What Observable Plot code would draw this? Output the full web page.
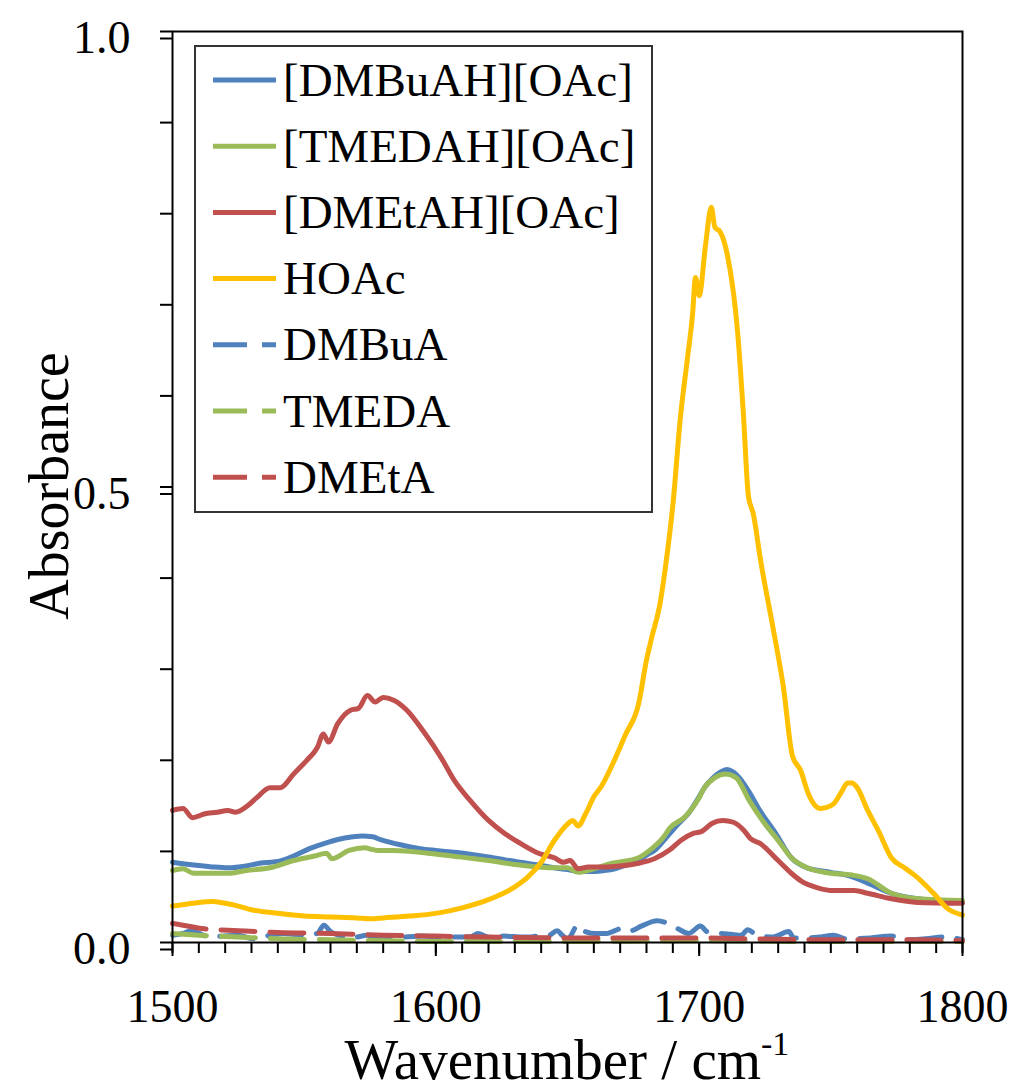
<!DOCTYPE html>
<html>
<head>
<meta charset="utf-8">
<script src="https://cdn.jsdelivr.net/npm/d3@7"></script>
<script src="https://cdn.jsdelivr.net/npm/@observablehq/plot@0.6"></script>
<style>
  html, body { margin: 0; padding: 0; background: #fff; }
  #chart { width: 1012px; height: 1092px; }
</style>
</head>
<body>
<div id="chart"></div>
<script>
// FT-IR spectra of protic ionic liquids, acetic acid and the parent amines (C=O / COO- region)

const seriesNames = ["[DMBuAH][OAc]", "[TMEDAH][OAc]", "[DMEtAH][OAc]", "HOAc", "DMBuA", "TMEDA", "DMEtA"];
const seriesColors = ["#4F81BD", "#9BBB59", "#C0504D", "#FFC000", "#4F81BD", "#9BBB59", "#C0504D"];
const seriesDashed = [false, false, false, false, true, true, true];

// [wavenumber (cm-1), absorbance]
const DMBuAH_OAc = [
  [1500,0.088],[1508,0.085],[1515,0.083],[1521,0.082],[1528,0.084],[1533,0.087],[1540,0.089],
  [1546,0.095],[1552,0.103],[1559,0.110],[1566,0.115],[1572,0.117],[1576,0.116],[1579,0.113],
  [1587,0.107],[1594,0.103],[1600,0.101],[1607,0.099],[1613,0.097],[1620,0.094],[1626,0.091],
  [1632,0.088],[1639,0.085],[1645,0.082],[1650,0.080],[1654,0.078],[1660,0.078],[1664,0.079],
  [1668,0.081],[1672,0.085],[1677,0.090],[1680,0.096],[1683,0.101],[1686,0.110],[1689,0.120],
  [1692,0.130],[1696,0.142],[1700,0.160],[1702,0.170],[1705,0.180],[1708,0.187],[1710.5,0.190],
  [1713,0.187],[1716,0.178],[1719,0.165],[1723,0.145],[1729,0.120],[1735,0.093],[1741,0.082],
  [1750,0.077],[1756,0.074],[1761,0.069],[1765,0.064],[1773,0.054],[1783,0.048],[1800,0.044]
];

const TMEDAH_OAc = [
  [1500,0.079],[1504,0.081],[1508,0.076],[1515,0.076],[1521,0.076],[1528,0.079],[1537,0.082],
  [1546,0.090],[1554,0.095],[1558.5,0.098],[1560.5,0.092],[1567,0.101],[1573,0.104],[1576,0.102],
  [1578,0.101],[1584,0.101],[1597,0.098],[1609,0.094],[1620,0.090],[1632,0.085],[1645,0.082],
  [1650,0.082],[1654,0.077],[1660,0.081],[1667,0.087],[1677,0.093],[1682,0.103],[1686,0.114],
  [1689,0.126],[1695,0.139],[1700,0.159],[1702,0.170],[1706,0.181],[1710,0.185],[1714,0.181],
  [1719,0.156],[1724,0.134],[1730,0.112],[1735,0.093],[1741,0.082],[1750,0.076],[1758,0.074],
  [1764,0.070],[1773,0.054],[1783,0.048],[1800,0.046]
];

const DMEtAH_OAc = [
  [1500,0.145],[1504,0.147],[1507.6,0.137],[1512,0.141],[1517,0.143],[1521,0.145],[1524,0.143],
  [1528.5,0.150],[1532,0.159],[1537,0.170],[1541,0.170],[1546,0.185],[1551,0.200],[1555,0.214],
  [1557.3,0.229],[1559.2,0.220],[1562.7,0.240],[1567.6,0.255],[1570.6,0.257],[1574,0.271],
  [1577,0.264],[1580,0.269],[1584,0.266],[1589,0.255],[1595,0.233],[1602,0.203],[1607,0.178],
  [1613,0.156],[1620,0.134],[1626,0.120],[1632,0.109],[1639,0.098],[1645,0.093],[1648.5,0.088],
  [1651,0.090],[1654,0.081],[1658,0.083],[1664,0.083],[1670,0.084],[1677,0.087],[1683,0.092],
  [1689,0.102],[1693,0.112],[1698,0.120],[1701,0.122],[1705,0.131],[1709,0.134],[1713,0.132],
  [1717,0.123],[1719.5,0.114],[1723,0.109],[1730,0.090],[1735,0.076],[1738.5,0.068],[1745,0.060],
  [1751,0.057],[1759,0.057],[1764,0.054],[1773,0.048],[1783,0.044],[1800,0.043]
];

const HOAc = [
  [1500,0.040],[1505,0.042],[1510,0.044],[1515,0.045],[1520,0.043],[1525,0.040],[1530,0.036],
  [1540,0.032],[1550,0.029],[1560,0.028],[1570,0.027],[1575,0.026],[1580,0.027],[1590,0.029],
  [1600,0.032],[1610,0.038],[1620,0.047],[1630,0.061],[1635,0.072],[1640,0.088],[1645,0.112],
  [1650,0.130],[1652,0.134],[1654,0.128],[1657,0.142],[1660,0.160],[1663,0.172],[1667,0.195],
  [1672,0.228],[1677,0.262],[1680,0.310],[1682,0.335],[1685,0.370],[1688,0.430],[1690,0.480],
  [1693,0.580],[1695.5,0.640],[1697.5,0.690],[1698.6,0.730],[1700,0.710],[1702.4,0.765],
  [1704.6,0.807],[1706,0.785],[1708,0.780],[1710.7,0.755],[1714.6,0.670],[1716.8,0.580],
  [1718.7,0.490],[1720.6,0.470],[1723.3,0.420],[1728,0.346],[1732,0.280],[1735.4,0.205],
  [1738.5,0.189],[1741.5,0.163],[1746,0.147],[1748,0.148],[1751,0.152],[1754,0.165],
  [1756.3,0.175],[1758,0.175],[1760,0.170],[1764,0.145],[1768,0.123],[1773,0.093],[1778,0.082],
  [1783,0.071],[1789,0.054],[1794,0.038],[1800,0.030]
];

const DMBuA = [
  [1500,0.008],[1504,0.010],[1507,0.013],[1511,0.009],[1514,0.006],[1519,0.007],[1525,0.008],
  [1529,0.005],[1532,0.004],[1537,0.008],[1542,0.010],[1546,0.009],[1550,0.008],[1555,0.010],
  [1557.5,0.019],[1560,0.012],[1563,0.008],[1567,0.005],[1570,0.006],[1574,0.008],[1578,0.004],
  [1583,0.006],[1588,0.006],[1595,0.007],[1601,0.006],[1608,0.006],[1613,0.006],[1616,0.010],
  [1620,0.006],[1626,0.007],[1632,0.006],[1636,0.006],[1640,0.008],[1643,0.008],[1646,0.013],
  [1648,0.008],[1650,0.004],[1654,0.019],[1656,0.013],[1660,0.010],[1665,0.010],[1668,0.013],
  [1671,0.016],[1674,0.013],[1678,0.018],[1684,0.024],[1688,0.021],[1692,0.015],[1696,0.010],
  [1700.5,0.018],[1703,0.012],[1708,0.010],[1712,0.009],[1716,0.008],[1718.4,0.014],[1722,0.008],
  [1728,0.006],[1734,0.012],[1736,0.005],[1741,0.005],[1746,0.006],[1751,0.008],[1756,0.004],
  [1765,0.005],[1773,0.007],[1779,0.003],[1786,0.004],[1793,0.006],[1800,0.003]
];

const TMEDA = [
  [1500,0.010],[1510,0.008],[1525,0.006],[1540,0.004],[1560,0.003],[1580,0.002],[1600,0.001],
  [1650,0.001],[1700,0.002],[1750,0.001],[1800,0.001]
];

const DMEtA = [
  [1500,0.021],[1504,0.019],[1512,0.015],[1525,0.013],[1540,0.011],[1560,0.010],[1580,0.008],
  [1600,0.007],[1620,0.006],[1650,0.005],[1680,0.005],[1700,0.005],[1720,0.004],[1750,0.003],
  [1780,0.003],[1800,0.002]
];

const seriesData = [DMBuAH_OAc, TMEDAH_OAc, DMEtAH_OAc, HOAc, DMBuA, TMEDA, DMEtA];

// Axis ticks
const xMajorTicks = [1500, 1600, 1700, 1800];
const xMinorTicks = d3.range(1500, 1801, 10);
const yMajorTicks = [0, 0.5, 1.0];
const yMinorTicks = [0, 0.1, 0.2, 0.3, 0.4, 0.5, 0.6, 0.7, 0.8, 0.9, 1.0];

const fontFamily = "'Liberation Serif', 'Times New Roman', serif";
const dash = "34,15";
const lineWidth = 5;

const lineMarks = seriesData.map((pts, i) => Plot.line(pts, {
  x: d => d[0],
  y: d => d[1],
  stroke: seriesColors[i],
  strokeWidth: lineWidth,
  strokeDasharray: seriesDashed[i] ? dash : null,
  curve: "monotone-x"
}));

const chart = Plot.plot({
  width: 1012,
  height: 1092,
  marginLeft: 172,
  marginRight: 50,
  marginTop: 31,
  marginBottom: 150,
  style: { fontFamily, background: "#fff" },
  x: { domain: [1500, 1800] },
  y: { domain: [0, 1] },
  marks: [
    ...lineMarks,
    Plot.frame({ stroke: "#000", strokeWidth: 2 }),
    Plot.axisX({ ticks: xMinorTicks, anchor: "bottom", tickSize: 11, stroke: "#000", strokeWidth: 2, tickFormat: () => "", label: null }),
    Plot.axisX({ ticks: xMajorTicks, anchor: "bottom", tickSize: 14, stroke: "#000", strokeWidth: 2, tickPadding: 33, fontSize: 46, fill: "#000", tickFormat: d => String(d), label: null }),
    Plot.axisY({ ticks: yMinorTicks, anchor: "left", tickSize: 12, stroke: "#000", strokeWidth: 2, tickFormat: () => "", label: null }),
    Plot.axisY({ ticks: yMajorTicks, anchor: "left", tickSize: 12, stroke: "#000", strokeWidth: 2, tickPadding: 30, fontSize: 46, fill: "#000", dy: 7, tickFormat: d => d.toFixed(1), label: null })
  ]
});

document.getElementById("chart").appendChild(chart);

const svg = d3.select(chart);

// Axis titles
const xTitle = svg.append("text")
  .attr("x", 567).attr("y", 1079)
  .attr("text-anchor", "middle")
  .attr("font-family", fontFamily)
  .attr("font-size", 57)
  .attr("fill", "#000");
xTitle.append("tspan").text("Wavenumber / cm");
xTitle.append("tspan").attr("font-size", 34).attr("dy", -24).text("-1");

svg.append("text")
  .attr("transform", "translate(68,486) rotate(-90)")
  .attr("text-anchor", "middle")
  .attr("font-family", fontFamily)
  .attr("font-size", 56)
  .attr("fill", "#000")
  .text("Absorbance");

// Legend
const legend = svg.append("g").attr("text-anchor", "start");
legend.append("rect")
  .attr("x", 195).attr("y", 46).attr("width", 457).attr("height", 466)
  .attr("fill", "#fff").attr("stroke", "#333").attr("stroke-width", 2);
seriesNames.forEach((name, i) => {
  const cy = 80 + i * 66.2;
  legend.append("line")
    .attr("x1", 213).attr("x2", 276).attr("y1", cy).attr("y2", cy)
    .attr("stroke", seriesColors[i]).attr("stroke-width", lineWidth)
    .attr("stroke-dasharray", seriesDashed[i] ? dash : null);
  legend.append("text")
    .attr("x", 283).attr("y", cy).attr("dy", "0.33em")
    .attr("text-anchor", "start")
    .attr("font-family", fontFamily).attr("font-size", 47).attr("fill", "#000")
    .text(name);
});
</script>
</body>
</html>
